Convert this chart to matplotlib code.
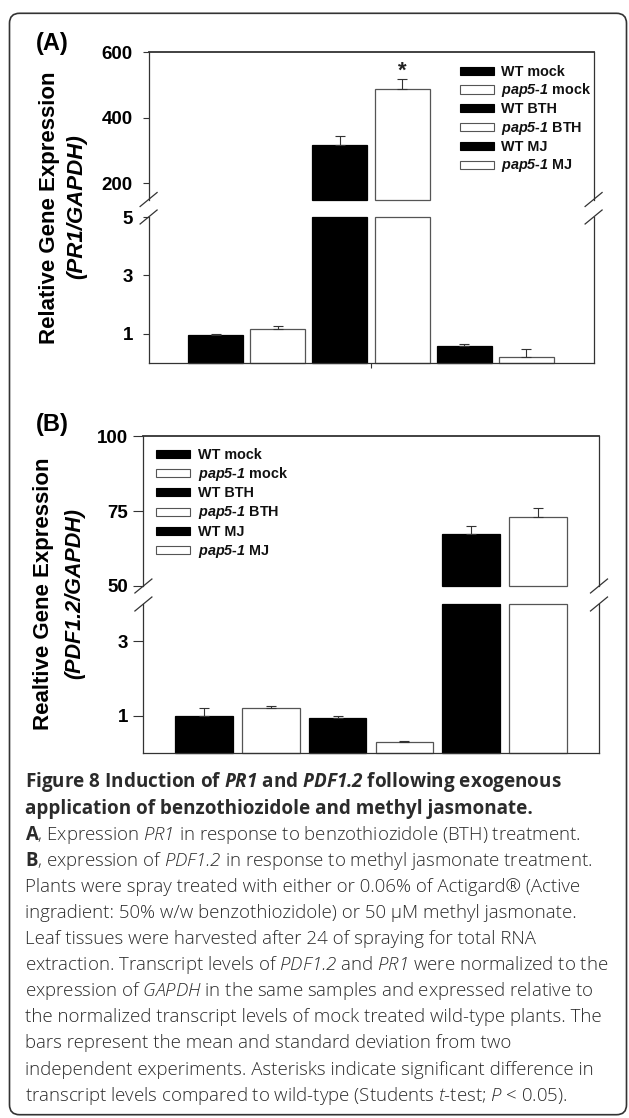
import matplotlib
matplotlib.use('Agg')
import matplotlib.pyplot as plt
from matplotlib.patches import Rectangle, FancyBboxPatch
from matplotlib.transforms import IdentityTransform
import numpy as np

plt.rcParams['font.family'] = ['Liberation Sans', 'DejaVu Sans']
plt.rcParams['mathtext.fontset'] = 'custom'
plt.rcParams['mathtext.bfit'] = 'Liberation Sans:italic:bold'
plt.rcParams['mathtext.it'] = 'Open Sans:italic:light'
plt.rcParams['mathtext.bf'] = 'Open Sans:bold'
plt.rcParams['mathtext.sf'] = 'Open Sans:italic:bold'
# digits / punctuation inside \mathit fall back to "rm": keep them italic too
plt.rcParams['mathtext.rm'] = 'Open Sans:italic:light'

# ---------------- data ----------------
groups = ['WT mock', 'pap5-1 mock', 'WT BTH', 'pap5-1 BTH', 'WT MJ', 'pap5-1 MJ']
legend_labels = ['WT mock', r'$\mathbfit{pap5}$-$\mathbfit{1}$ mock',
                 'WT BTH', r'$\mathbfit{pap5}$-$\mathbfit{1}$ BTH',
                 'WT MJ', r'$\mathbfit{pap5}$-$\mathbfit{1}$ MJ']
bar_fill = ['black', 'white', 'black', 'white', 'black', 'white']

pr1_mean = [0.95, 1.15, 316, 489, 0.575, 0.21]
pr1_err = [0.06, 0.115, 28, 30, 0.08, 0.26]
pr1_signif = [False, False, False, True, False, False]
pr1_upper_ticks = [200, 400, 600]
pr1_lower_ticks = [1, 3, 5]

pdf_mean = [0.99, 1.19, 0.93, 0.30, 67.5, 73.0]
pdf_err = [0.20, 0.06, 0.07, 0.02, 2.6, 3.0]
pdf_upper_ticks = [50, 75, 100]
pdf_lower_ticks = [1, 3]

caption_lines = [
    (r'Figure 8 Induction of $\mathsf{PR1}$ and $\mathsf{PDF1.2}$ following exogenous', 'bold'),
    ('application of benzothiozidole and methyl jasmonate.', 'bold'),
    (r'$\mathbf{A}$, Expression $\mathit{PR1}$ in response to benzothiozidole (BTH) treatment.', 'light'),
    (r'$\mathbf{B}$, expression of $\mathit{PDF1.2}$ in response to methyl jasmonate treatment.', 'light'),
    ('Plants were spray treated with either or 0.06% of Actigard® (Active', 'light'),
    ('ingradient: 50% w/w benzothiozidole) or 50 µM methyl jasmonate.', 'light'),
    ('Leaf tissues were harvested after 24 of spraying for total RNA', 'light'),
    (r'extraction. Transcript levels of $\mathit{PDF1.2}$ and $\mathit{PR1}$ were normalized to the', 'light'),
    (r'expression of $\mathit{GAPDH}$ in the same samples and expressed relative to', 'light'),
    ('the normalized transcript levels of mock treated wild-type plants. The', 'light'),
    ('bars represent the mean and standard deviation from two', 'light'),
    ('independent experiments. Asterisks indicate significant difference in', 'light'),
    (r'transcript levels compared to wild-type (Students $\mathit{t}$-test; $\mathit{P}$ < 0.05).', 'light'),
]

# ---------------- layout ----------------
W, H = 629, 1118
fig = plt.figure(figsize=(W / 100, H / 100), dpi=100)
fig.patch.set_facecolor('white')
SPINE = '#333333'


def fx(x):
    return x / W


def fy(y):
    return 1 - y / H


def draw_panel(x0, x1, up_top, up_bot, lo_top, lo_bot, up_lim, lo_lim,
               up_ticks, lo_ticks, means, errs, xlim, width, ticklen, tickpad,
               xticks, signif=None):
    ax_up = fig.add_axes([fx(x0), fy(up_bot), (x1 - x0) / W, (up_bot - up_top) / H])
    ax_lo = fig.add_axes([fx(x0), fy(lo_bot), (x1 - x0) / W, (lo_bot - lo_top) / H])
    means = np.asarray(means, float)
    errs = np.asarray(errs, float)
    x = np.arange(len(means))
    big = means > up_lim[0]
    for ax in (ax_up, ax_lo):
        ax.set_xlim(*xlim)
        for s in ax.spines.values():
            s.set_color(SPINE)
            s.set_linewidth(0.9)
    ax_up.set_ylim(*up_lim)
    ax_lo.set_ylim(*lo_lim)
    ax_up.spines['top'].set_linewidth(1.3)
    ax_up.spines['bottom'].set_visible(False)
    ax_lo.spines['top'].set_visible(False)
    # bars lower section (clamped at section top)
    lo_h = np.minimum(means, lo_lim[1])
    for i in x:
        ec = 'black' if bar_fill[i] == 'black' else '#555555'
        ax_lo.bar(x[i], lo_h[i], width=width, color=bar_fill[i], edgecolor=ec,
                  linewidth=0.9, clip_on=False, zorder=2)
        if big[i]:
            ax_up.bar(x[i], means[i] - up_lim[0], bottom=up_lim[0], width=width,
                      color=bar_fill[i], edgecolor=ec, linewidth=0.9,
                      clip_on=False, zorder=2)
    # error bars (upper only)
    for ax, sel in ((ax_up, big), (ax_lo, ~big)):
        if sel.any():
            ax.errorbar(x[sel], means[sel], yerr=[np.zeros(sel.sum()), errs[sel]],
                        fmt='none', ecolor=SPINE, elinewidth=0.8, capsize=3.6,
                        capthick=0.8, zorder=3)
    if signif is not None:
        for i in x:
            if signif[i]:
                ax_up.annotate('*', xy=(x[i], means[i] + errs[i]), xytext=(0, 1.5),
                               textcoords='offset points', ha='center', va='baseline',
                               fontsize=16, fontweight='bold', color='#222222')
    # ticks
    ax_up.set_xticks([])
    ax_lo.set_xticks(xticks, labels=['' for _ in xticks])
    ax_lo.tick_params(axis='x', direction='out', length=3.6, width=0.8, color=SPINE)
    ax_up.set_yticks(up_ticks, labels=[str(t) for t in up_ticks],
                     fontsize=13.5, fontweight='bold')
    ax_lo.set_yticks(lo_ticks, labels=[str(t) for t in lo_ticks],
                     fontsize=13.5, fontweight='bold')
    for ax in (ax_up, ax_lo):
        ax.tick_params(axis='y', direction='out', length=ticklen * 0.72, width=0.8,
                       pad=tickpad * 0.72, color=SPINE)
    # break marks
    wpx = x1 - x0
    dx = 8.5 / wpx
    for ax, yy, hpx in ((ax_up, 0.0, up_bot - up_top), (ax_lo, 1.0, lo_bot - lo_top)):
        dy = 7.0 / hpx
        for xs in (0.0, 1.0):
            ax.plot([xs - dx, xs + dx], [yy - dy, yy + dy], transform=ax.transAxes,
                    color=SPINE, lw=0.9, clip_on=False)
    return ax_up, ax_lo


def draw_legend(px, tx, row0, spacing):
    for i, (lab, fc) in enumerate(zip(legend_labels, bar_fill)):
        y = row0 + i * spacing
        ec = 'black' if fc == 'black' else '#555555'
        fig.add_artist(Rectangle((fx(px), fy(y + 4)), 34 / W, 8 / H,
                                 transform=fig.transFigure, facecolor=fc,
                                 edgecolor=ec, linewidth=0.8))
        fig.text(fx(tx), fy(y + 4.8), lab, fontsize=10.4, fontweight='bold',
                 va='baseline', ha='left', color='#111111')


# Panel A
draw_panel(148.6, 593.6, 52.3, 199.5, 217, 363, (150, 600), (0, 5),
           pr1_upper_ticks, pr1_lower_ticks, pr1_mean, pr1_err,
           (-1.076, 6.079), 0.884, 5.6, 10, [2.5], signif=pr1_signif)
draw_legend(460, 500.7, 70.7, 18.8)
fig.text(fx(52.5), fy(43.5), '(A)', fontsize=17, fontweight='bold', ha='center', va='center')
fig.text(fx(50), fy(207.5), 'Relative Gene Expression', rotation=90, fontsize=16,
         fontweight='bold', ha='center', va='center')
fig.text(fx(77), fy(206.5), '(PR1/GAPDH)', rotation=90, fontsize=16,
         fontweight='bold', fontstyle='italic', ha='center', va='center')

# Panel B
draw_panel(143.4, 599, 436.3, 586, 604, 752.7, (50, 100), (0, 4),
           pdf_upper_ticks, pdf_lower_ticks, pdf_mean, pdf_err,
           (-0.907, 5.913), 0.86, 10, 5, [])
draw_legend(156, 198, 454, 19.2)
fig.text(fx(52.5), fy(424), '(B)', fontsize=17, fontweight='bold', ha='center', va='center')
fig.text(fx(44), fy(594), 'Realtive Gene Expression', rotation=90, fontsize=16,
         fontweight='bold', ha='center', va='center')
fig.text(fx(75), fy(594), '(PDF1.2/GAPDH)', rotation=90, fontsize=15.5,
         fontweight='bold', fontstyle='italic', ha='center', va='center')

# Caption
for i, (line, wt) in enumerate(caption_lines):
    fs = 13.6 if wt == 'bold' else 13.4
    fig.text(fx(25), fy(787.5 + 26.1 * i), line, family=['Open Sans', 'DejaVu Sans'],
             fontweight=wt, fontsize=fs, color='#2b2b2b', ha='left', va='baseline')

# Outer rounded frame
frame = FancyBboxPatch((9.5, 3.3), 617, 1101.4,
                       boxstyle='round,pad=0,rounding_size=10',
                       transform=IdentityTransform(), fill=False,
                       edgecolor='#333333', linewidth=1.2)
fig.add_artist(frame)

fig.savefig('out.png', dpi=100)
